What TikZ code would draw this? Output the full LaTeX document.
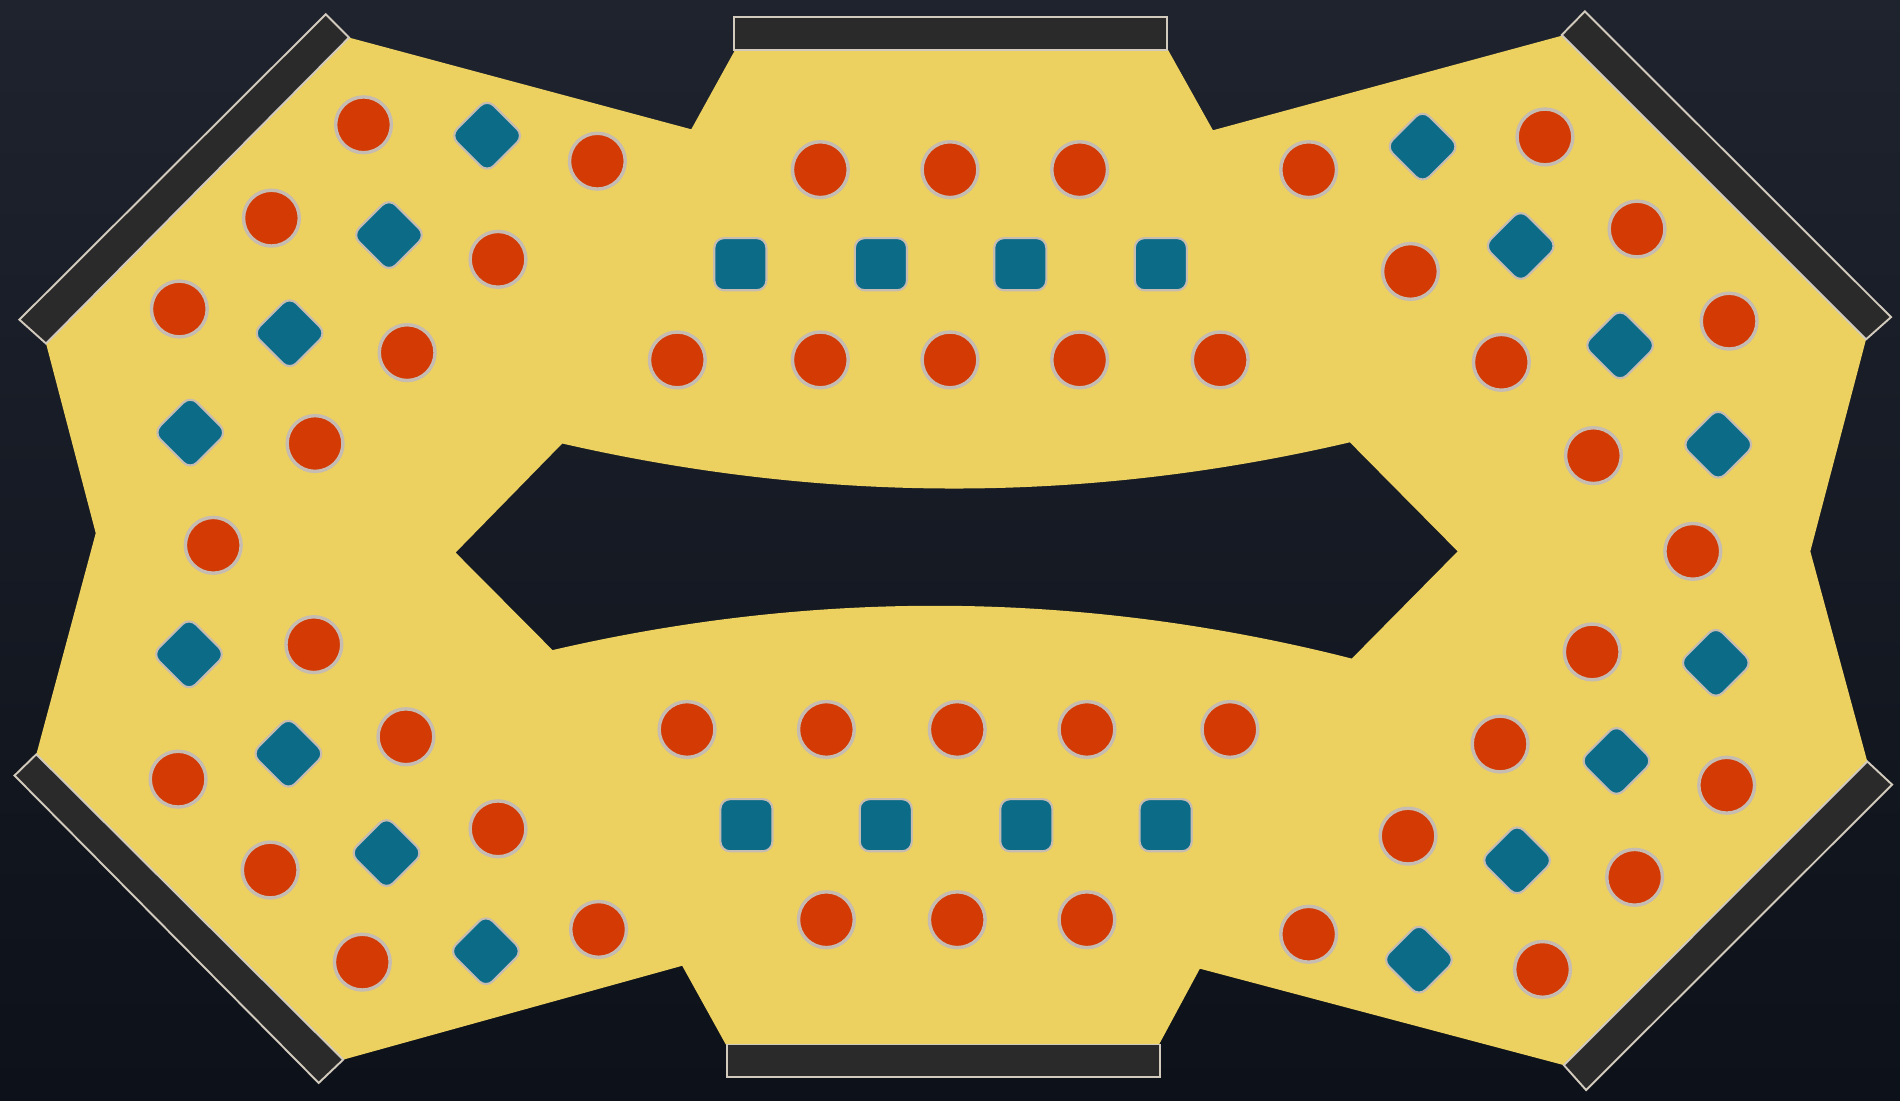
\documentclass[tikz,border=0pt]{standalone}
\definecolor{bgtop}{RGB}{30,35,46}
\definecolor{bgbot}{RGB}{13,17,25}
\definecolor{sand}{RGB}{236,208,96}
\definecolor{seatred}{RGB}{212,58,4}
\definecolor{seatteal}{RGB}{12,108,136}
\definecolor{rim}{RGB}{198,188,178}
\definecolor{barfill}{RGB}{42,42,42}
\definecolor{barline}{RGB}{210,202,188}
\tikzset{
  chair/.style={circle, fill=seatred, draw=rim, line width=0.8pt, minimum size=0.46cm, inner sep=0pt},
  sqseat/.style={rectangle, rounded corners=0.08cm, fill=seatteal, draw=rim, line width=0.5pt, minimum size=0.43cm, inner sep=0pt},
  diaseat/.style={sqseat, rotate=45, minimum size=0.43cm, rounded corners=0.08cm},
  barstyle/.style={fill=barfill, draw=barline, line width=0.45pt}
}
\begin{document}
\begin{tikzpicture}[x=0.01cm,y=-0.01cm]
\useasboundingbox (0,0) rectangle (1568,908);
\shade[top color=bgtop, bottom color=bgbot] (0,0) rectangle (1568,908);
% floor
\fill[sand, even odd rule]
  (38,283.5) -- (288,31) -- (570.5,106.7) -- (606.6,41.3) -- (964,41.3) -- (1001,107.5)
  -- (1288.8,29.5) -- (1540,280) -- (1494,455) -- (1541,628.4) -- (1290.6,879)
  -- (990.2,799.4) -- (956.5,862) -- (599,862) -- (563,797) -- (283.2,874.5)
  -- (30,622.5) -- (79,440) -- cycle
  (376,456) -- (464,366) .. controls (681,415.7) and (897,415.7) .. (1114,365)
  -- (1203,455) -- (1115.6,543.5) .. controls (896,487.8) and (676,485.5) .. (456,536.5) -- cycle;
% bars
\draw[barstyle] (606,14) rectangle (963,41);
\draw[barstyle] (600,862) rectangle (957.5,889);
\draw[barstyle] (16,263.8) -- (268.8,11.8) -- (288,31) -- (38,283.5) -- cycle;
\draw[barstyle] (1307.9,9.4) -- (1560.6,261.7) -- (1540,280) -- (1288.8,28.9) -- cycle;
\draw[barstyle] (1541,628.4) -- (1561.5,647.5) -- (1309,899.6) -- (1290.6,879) -- cycle;
\draw[barstyle] (30,622.5) -- (12,640) -- (263,893.7) -- (283.2,874.5) -- cycle;
% round seats
\foreach \px/\py [count=\i] in {
  677/140,784/140,891/140,559/297,677/297,784/297,891/297,1007/297,
  567/602,682/602,790/602,897/602,1015/602,682/759,790/759,897/759,
  300/103,493/133,224/180,411/214,148/255,336/291,260/366,176/450,
  259/532,147/643,335/608,223/718,411/684,299/794,494/767,
  1080/140,1275/113,1164/224,1351/189,1239/299,1427/265,1315/376,1397/455,
  1314/538,1238/614,1425/648,1162/690,1349/724,1080/771,1273/800}
  \node[chair] (r\i) at (\px,\py) {};
% square seats
\foreach \px/\py [count=\i] in {611/218,727/218,842/218,958/218,616/681,731/681,847/681,962/681}
  \node[sqseat] (s\i) at (\px,\py) {};
% diamond seats
\foreach \px/\py [count=\i] in {
  402/112,321/194,239/275,157/357,156/540,238/622,319/704,401/785,
  1174/121,1255/203,1337/285,1418/367,1416/547,1334/628,1252/710,1171/792}
  \node[diaseat] (d\i) at (\px,\py) {};
\end{tikzpicture}
\end{document}
